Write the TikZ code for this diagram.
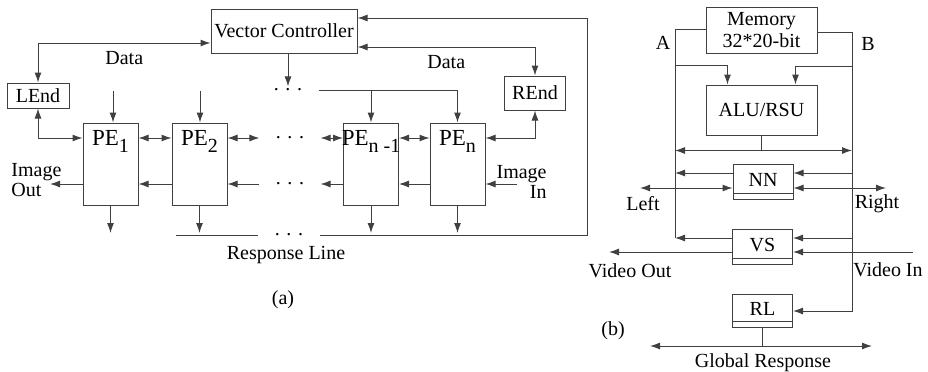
\documentclass[tikz,border=0pt]{standalone}
\usepackage{fontspec}
\setmainfont{Liberation Serif}
\usetikzlibrary{arrows.meta, positioning, calc}
\newcommand{\pesub}[1]{\raisebox{-0.6ex}{\normalsize #1}}

\begin{document}
\begin{tikzpicture}[
        x=0.5pt, y=-0.5pt,
        >={Latex[length=5pt,width=3.5pt]},
        box/.style={rectangle, draw=black!75, line width=0.5pt, inner sep=0pt, align=center, font=\fontsize{10}{11}\selectfont},
        pe/.style={box, minimum width=27.5pt, minimum height=41pt},
        pelabel/.style={anchor=north, yshift=-3pt, inner sep=1pt, font=\fontsize{11.5}{13}\selectfont},
        fubox/.style={box, minimum width=30pt, minimum height=17.5pt, path picture={\draw[line width=0.5pt, black!75] ([yshift=3pt]path picture bounding box.south west) -- ([yshift=3pt]path picture bounding box.south east);}},
        wire/.style={draw=black!75, line width=0.5pt},
        flow/.style={wire, ->},
        dflow/.style={wire, <->},
        dotgap/.style={inner xsep=8pt, inner ysep=1pt, font=\fontsize{10}{10}\selectfont},
        txt/.style={font=\fontsize{10}{10}\selectfont, align=center, inner sep=1pt}
    ]
        \useasboundingbox (0,0) rectangle (928,371);

        % (a) Controller and end units
        \node[box, minimum width=73pt, minimum height=22pt] (vc) at (284,31) {Vector Controller};
        \node[box, minimum width=31pt, minimum height=12.5pt] (lend) at (38,95.5) {LEnd};
        \node[box, minimum width=30.5pt, minimum height=17pt] (rend) at (535,93) {REnd};

        % (a) Processing elements
        \node[pe, label={[pelabel]north:PE\pesub{1}}] (pe1) at (110.5,164) {};
        \node[pe, label={[pelabel]north:PE\pesub{2}}] (pe2) at (199.5,164) {};
        \node[pe, label={[pelabel]north:PE\pesub{n -1}}] (pe3) at (371,164) {};
        \node[pe, label={[pelabel]north:PE\pesub{n}}] (pen) at (457.5,164) {};

        \coordinate (r1) at (0,138);
        \coordinate (r2) at (0,184);
        \coordinate (r3) at (0,233);
        \coordinate (in1) at (113,91);
        \coordinate (in2) at (200,91);
        \coordinate (imgout) at (50,184);
        \coordinate (imgin) at (517,184);
        \coordinate (rs) at (176,235);
        \coordinate (rc) at (587,235);

        \node[dotgap] (bdots) at (288,90) {. . .};
        \node[dotgap] (d1) at (290,138) {. . .};
        \node[dotgap] (d2) at (290,184) {. . .};
        \node[dotgap] (d3) at (289,235) {. . .};

        % (a) Data paths
        \draw[dflow] (lend.north) |- ([yshift=-6pt]vc.west) node[pos=0.75, below=3pt, txt] {Data};
        \draw[dflow] ([yshift=-8pt]vc.east) -| (rend.north) node[pos=0.25, below=3pt, txt] {Data};

        % (a) Broadcast
        \draw[flow] (vc.south -| bdots) -- (bdots.north);
        \draw[flow] (bdots.east) -| (pen.north);
        \draw[flow] (bdots.east -| pe3.north) -- (pe3.north);
        \draw[flow] (in1) -- (in1 |- pe1.north);
        \draw[flow] (in2) -- (in2 |- pe2.north);

        % (a) Neighbour links
        \draw[dflow] (lend.south) |- (pe1.west |- r1);
        \draw[dflow] (pe1.east |- r1) -- (pe2.west |- r1);
        \draw[dflow] (pe2.east |- r1) -- (d1.west);
        \draw[dflow] (d1.east) -- (pe3.west |- r1);
        \draw[dflow] (pe3.east |- r1) -- (pen.west |- r1);
        \draw[dflow] (rend.south) |- (pen.east |- r1);

        % (a) Image shift
        \draw[flow] (imgin) -- (pen.east |- r2);
        \draw[flow] (pen.west |- r2) -- (pe3.east |- r2);
        \draw[flow] (pe3.west |- r2) -- (d2.east);
        \draw[flow] (d2.west) -- (pe2.east |- r2);
        \draw[flow] (pe2.west |- r2) -- (pe1.east |- r2);
        \draw[flow] (pe1.west |- r2) -- (imgout);
        \node[txt, align=left, anchor=west] (imgoutlabel) at (9,180) {Image\\Out};
        \node[txt, align=right, anchor=east] (imginlabel) at (549,182) {Image\\In};

        % (a) Response line
        \foreach \p in {pe1,pe2,pe3,pen}
            \draw[flow] (\p.south) -- (\p.south |- r3);
        \draw[wire] (rs) -- (d3.west);
        \draw[flow] (d3.east) -- (rc) |- ([yshift=6.5pt]vc.east);
        \node[txt] (rlabel) at (286,255) {Response Line};
        \node[txt] (alab) at (283,300) {(a)};

        % (b) Units
        \node[box, minimum width=55.5pt, minimum height=23pt] (mem) at (761.5,30) {Memory\\32*20-bit};
        \node[box, minimum width=55.5pt, minimum height=25pt] (alu) at (761.5,110) {ALU/RSU};
        \node[fubox] (nn) at (763,181.5) {\raisebox{1.2pt}{NN}};
        \node[fubox] (vs) at (762.5,246.5) {\raisebox{1.2pt}{VS}};
        \node[fubox, minimum height=16.5pt] (rl) at (762.5,310.5) {\raisebox{1.2pt}{RL}};

        \coordinate (ax) at (675,238);
        \coordinate (bx) at (852,311);
        \coordinate (aa) at (675,65);
        \coordinate (bb) at (852,66);
        \coordinate (n1) at (0,173);
        \coordinate (n2) at (0,188);
        \coordinate (v1) at (0,252);
        \coordinate (leftend) at (640,188);
        \coordinate (rightend) at (886,188);
        \coordinate (vout) at (609,252);
        \coordinate (vin) at (913,252);
        \coordinate (gl) at (650,346);
        \coordinate (gr) at (872,346);

        % (b) Buses A and B
        \draw[wire] ([yshift=0.5pt]mem.west) -| (ax);
        \draw[flow] (vs.west |- ax) -- (ax);
        \draw[flow] ([yshift=-1pt]mem.east) -| (bx) -- (rl.east |- bx);
        \node[txt] (alabel) at (663,43) {A};
        \node[txt] (blabel) at (868,44) {B};
        \draw[flow] (aa) -| ([xshift=-17pt]alu.north);
        \draw[flow] (bb) -| ([xshift=17pt]alu.north);
        \draw[wire] (alu.south) -- ++(0,15) coordinate (ao);
        \draw[flow] (ao) -- (ao -| ax);
        \draw[flow] (ao) -- (ao -| bx);

        % (b) NN
        \draw[flow] (nn.west |- n1) -- (ax |- n1);
        \draw[flow] (bx |- n1) -- (nn.east |- n1);
        \draw[dflow] (leftend) -- (nn.west |- n2);
        \draw[dflow] (nn.east |- n2) -- (rightend);
        \node[txt] (leftlabel) at (643,204) {Left};
        \node[txt] (rightlabel) at (877,204) {Right};

        % (b) VS and RL
        \draw[flow] (bx |- ax) -- (vs.east |- ax);
        \draw[flow] (vs.west |- v1) -- (vout);
        \draw[flow] (vin) -- (vs.east |- v1);
        \node[txt] (voutlabel) at (630,271) {Video Out};
        \node[txt] (vinlabel) at (888,270) {Video In};
        \draw[wire] (rl.south) -- (rl.south |- gl);
        \draw[dflow] (gl) -- (gr);
        \node[txt] (glabel) at (763,363) {Global Response};
        \node[txt] (blab) at (613,331) {(b)};

    \end{tikzpicture}
\end{document}
